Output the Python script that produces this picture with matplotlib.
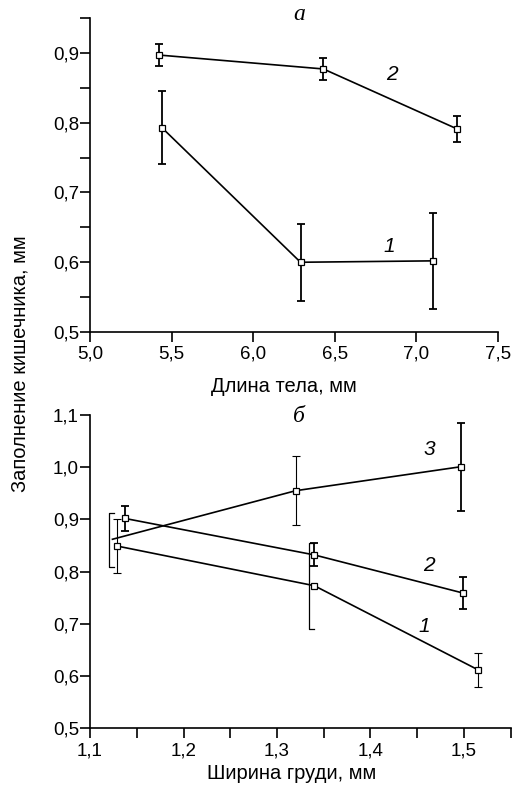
import numpy as np
import matplotlib
matplotlib.use('Agg')
import matplotlib.pyplot as plt
from matplotlib.ticker import MultipleLocator, FuncFormatter

plt.rcParams['font.family'] = ['Liberation Sans', 'DejaVu Sans']

# --- panel а: body length ---
len_x1 = [5.44, 6.29, 7.10]
len_y1 = [0.793, 0.600, 0.602]
len_e1 = [0.052, 0.055, 0.069]

len_x2 = [5.42, 6.43, 7.25]
len_y2 = [0.897, 0.877, 0.791]
len_e2 = [0.016, 0.016, 0.018]

# --- panel б: chest width ---
chest_x1 = [1.129, 1.340, 1.515]
chest_y1 = [0.849, 0.773, 0.612]
chest_e1 = [0.052, 0.0, 0.033]

chest_x2 = [1.137, 1.340, 1.499]
chest_y2 = [0.902, 0.832, 0.759]
chest_e2 = [0.024, 0.022, 0.031]

chest_x3 = [1.124, 1.320, 1.497]
chest_y3 = [0.862, 0.955, 1.001]
chest_e3 = [0.0, 0.066, 0.084]

# one-sided bracket error bars
brk_x = [1.120, 1.334]
brk_y = [0.860, 0.772]
brk_e = [0.052, 0.082]

def comma(v, pos):
    return f'{v:.1f}'.replace('.', ',')

fig = plt.figure(figsize=(5.15, 7.87), dpi=100)
ax1 = fig.add_axes([0.1748, 0.5781, 0.7922, 0.3990])
ax2 = fig.add_axes([0.1748, 0.0746, 0.8169, 0.3981])

lw = 1.2
mk = dict(marker='s', ms=5, mfc='white', mec='black', mew=0.9)
fs_tick = 13.5
fs_lab = 14.5
fs_num = 15

def errs(ax, x, y, e, widths):
    for xi, yi, ei, w in zip(x, y, e, widths):
        if ei > 0:
            ax.errorbar(xi, yi, yerr=ei, fmt='none', ecolor='black',
                        elinewidth=w, capsize=3, capthick=w, zorder=2)

# panel а
ax1.plot(len_x1, len_y1, color='black', lw=lw, zorder=3, **mk)
ax1.plot(len_x2, len_y2, color='black', lw=lw, zorder=3, **mk)
errs(ax1, len_x1, len_y1, len_e1, [1.3, 1.3, 1.3])
errs(ax1, len_x2, len_y2, len_e2, [1.3, 1.3, 1.3])

ax1.set_xlim(5.0, 7.5)
ax1.set_ylim(0.5, 0.95)
ax1.xaxis.set_major_locator(MultipleLocator(0.5))
ax1.yaxis.set_major_locator(MultipleLocator(0.1))
ax1.yaxis.set_minor_locator(MultipleLocator(0.05))
ax1.set_xlabel('Длина тела, мм', fontsize=fs_lab)
ax1.xaxis.set_label_coords(0.475, -0.172)
ax1.xaxis.label.set_va('center')
ax1.text(6.85, 0.869, '2', fontsize=fs_num, style='italic', ha='center', va='center')
ax1.text(6.835, 0.623, '1', fontsize=fs_num, style='italic', ha='center', va='center')
ax1.text(6.28, 0.955, 'а', fontsize=17, style='italic', family='Liberation Serif',
         ha='center', va='center', clip_on=False)

# panel б
ax2.plot(chest_x1, chest_y1, color='black', lw=lw, zorder=3, **mk)
ax2.plot(chest_x2, chest_y2, color='black', lw=lw, zorder=3, **mk)
ax2.plot(chest_x3, chest_y3, color='black', lw=lw, zorder=3, markevery=[1, 2], **mk)
errs(ax2, chest_x1, chest_y1, chest_e1, [0.8, 0.8, 0.8])
errs(ax2, chest_x2, chest_y2, chest_e2, [1.3, 1.3, 1.3])
errs(ax2, chest_x3, chest_y3, chest_e3, [0.8, 0.8, 1.3])
for bx, by, be in zip(brk_x, brk_y, brk_e):
    d = 0.006
    ax2.plot([bx + d, bx, bx, bx + d], [by - be, by - be, by + be, by + be],
             color='black', lw=0.9, zorder=2)

ax2.set_xlim(1.1, 1.55)
ax2.set_ylim(0.5, 1.1)
ax2.xaxis.set_major_locator(MultipleLocator(0.1))
ax2.xaxis.set_minor_locator(MultipleLocator(0.05))
ax2.yaxis.set_major_locator(MultipleLocator(0.1))
ax2.set_xlabel('Ширина груди, мм', fontsize=fs_lab)
ax2.xaxis.set_label_coords(0.48, -0.143)
ax2.xaxis.label.set_va('center')
ax2.text(1.4627, 1.033, '3', fontsize=fs_num, style='italic', ha='center', va='center')
ax2.text(1.4627, 0.811, '2', fontsize=fs_num, style='italic', ha='center', va='center')
ax2.text(1.457, 0.695, '1', fontsize=fs_num, style='italic', ha='center', va='center')
ax2.text(1.323, 1.097, 'б', fontsize=17, style='italic', family='Liberation Serif',
         ha='center', va='center', clip_on=False)

for ax in (ax1, ax2):
    ax.spines['top'].set_visible(False)
    ax.spines['right'].set_visible(False)
    ax.spines['left'].set_linewidth(1.2)
    ax.spines['bottom'].set_linewidth(1.2)
    ax.xaxis.set_major_formatter(FuncFormatter(comma))
    ax.yaxis.set_major_formatter(FuncFormatter(comma))
    ax.tick_params(which='both', direction='out', length=7, width=1.2,
                   labelsize=fs_tick)
    ax.tick_params(axis='y', pad=1)
    ax.tick_params(axis='x', pad=3)

fig.text(0.039, 1 - 364 / 787, 'Заполнение кишечника, мм', rotation=90,
         fontsize=fs_lab, ha='center', va='center')

fig.savefig('out.png', dpi=100)
